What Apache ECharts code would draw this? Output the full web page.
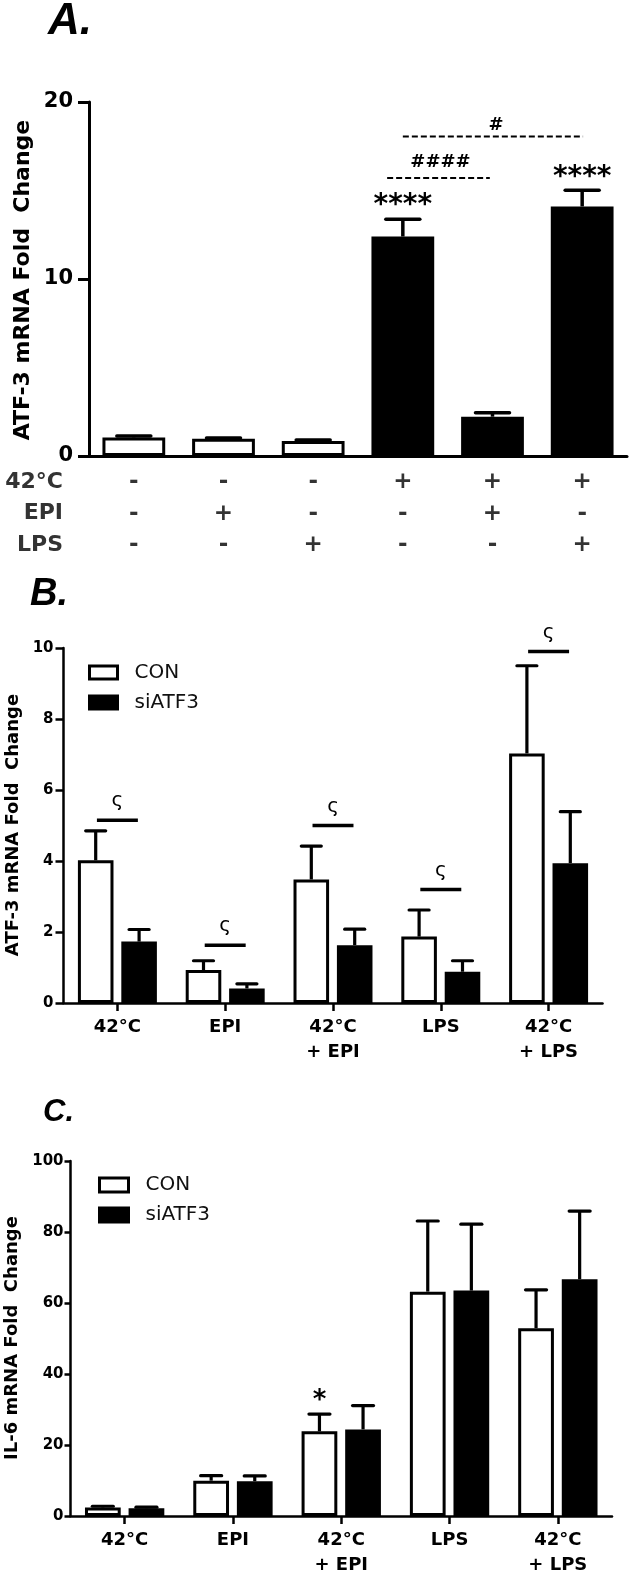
<!DOCTYPE html>
<html><head><meta charset="utf-8">
<script src="https://cdn.jsdelivr.net/npm/echarts@6/dist/echarts.min.js"></script>
<style>html,body{margin:0;padding:0;background:#fff}#c{width:629px;height:1578px}</style>
</head><body><div id="c"></div>
<script>
// ---------- Panel A data ----------
const aCategories = ['c1','c2','c3','c4','c5','c6'];
const aHeatRow = ['-','-','-','+','+','+'];
const aEpiRow  = ['-','+','-','-','+','-'];
const aLpsRow  = ['-','-','+','-','-','+'];
const aRowNames = ['42°C','EPI','LPS'];
const aMean = [1.05, 0.97, 0.85, 12.4, 2.22, 14.1];
const aSem  = [0.08, 0.05, 0.06, 0.97, 0.22, 0.92];
// annotations (x as category position, y as data value)
const aStarX = [3, 5], aStarY = [14.4, 16.0], aStarText = ['****','****'];
const aHashX = [3.42, 4.04], aHashY = [16.6, 18.7], aHashText = ['####','#'];
const aDashX1 = [2.825, 3.0], aDashX2 = [3.97, 5.01], aDashY = [15.7, 18.05];

// ---------- Panel B data ----------
const groupLabels = ['42°C','EPI','42°C\n+ EPI','LPS','42°C\n+ LPS'];
const bCon    = [4.02, 0.93, 3.48, 1.87, 7.03];
const bConErr = [0.83, 0.26, 0.94, 0.75, 2.47];
const bSi     = [1.73, 0.41, 1.63, 0.88, 3.94];
const bSiErr  = [0.34, 0.13, 0.45, 0.31, 1.45];
const bSigY   = [5.15, 1.63, 5.0, 3.2, 9.9];
const bSigText = ['ς','ς','ς','ς','ς'];

// ---------- Panel C data ----------
const cCon    = [2.4, 9.95, 23.85, 63.2, 52.9];
const cConErr = [0.35, 1.4, 4.85, 19.9, 10.8];
const cSi     = [2.2, 9.8, 24.4, 63.5, 66.7];
const cSiErr  = [0.3, 1.5, 6.7, 18.7, 19.2];
const cStarX = [2], cStarY = [33.8], cStarText = ['*'];

const FF = '"DejaVu Sans"';
const BW = 0.33, BG = 0.22;
const GAP_OFF = (BW + BW*BG)/2; // grouped bar offset (fraction of band)

function errSeries(gi, means, errs, off, capW, lw){
  return {
    type:'custom', xAxisIndex:gi, yAxisIndex:gi, z:5, silent:true,
    data: means.map((m,i)=>[i, m, m+errs[i]]),
    renderItem:(params, api)=>{
      const i = api.value(0);
      const b = api.coord([i, api.value(1)]);
      const t = api.coord([i, api.value(2)]);
      const band = api.size([1,0])[0];
      const x = b[0] + off*band;
      return {type:'group', children:[
        {type:'line', shape:{x1:x,y1:b[1],x2:x,y2:t[1]}, style:{stroke:'#000',lineWidth:lw}},
        {type:'line', shape:{x1:x-capW/2,y1:t[1],x2:x+capW/2,y2:t[1]}, style:{stroke:'#000',lineWidth:lw,lineCap:'round'}}
      ]};
    }
  };
}
function textSeries(gi, xs, ys, texts, font, dy, color){
  return {
    type:'custom', xAxisIndex:gi, yAxisIndex:gi, z:6, silent:true,
    data: xs.map((x,k)=>[Math.round(x), ys[k]]),
    renderItem:(params, api)=>{
      const k = params.dataIndex;
      const p = api.coord([api.value(0), api.value(1)]);
      const band = api.size([1,0])[0];
      const frac = xs[k] - Math.round(xs[k]);
      return {type:'text', x:p[0]+frac*band, y:p[1]+dy,
        style:{text:texts[k], font:font, fill:color||'#000', align:'center', verticalAlign:'middle', textAlign:'center', textVerticalAlign:'middle'}};
    }
  };
}
function segSeries(gi, x1s, x2s, ys, lw, dash){
  return {
    type:'custom', xAxisIndex:gi, yAxisIndex:gi, z:6, silent:true,
    data: ys.map((y,k)=>[Math.round(x1s[k]), y]),
    renderItem:(params, api)=>{
      const k = params.dataIndex;
      const band = api.size([1,0])[0];
      const r1 = Math.round(x1s[k]), r2 = Math.round(x2s[k]);
      const p1 = api.coord([r1, ys[k]]), p2 = api.coord([r2, ys[k]]);
      const xa = p1[0] + (x1s[k]-r1)*band, xb = p2[0] + (x2s[k]-r2)*band;
      return {type:'line', shape:{x1:xa,y1:p1[1],x2:xb,y2:p1[1]},
        style:{stroke:'#000', lineWidth:lw, lineDash:dash||null}};
    }
  };
}

const bSigX1 = bSigY.map((_,i)=>i-0.19), bSigX2 = bSigY.map((_,i)=>i+0.19), bSigX = bSigY.map((_,i)=>i);
const cStarXs = cStarX.map(i=>i-GAP_OFF);

function yAx(gi, max, interval, lw, tickLen, fs, margin){
  return {gridIndex:gi, type:'value', min:0, max:max, interval:interval,
    axisLine:{show:true, lineStyle:{color:'#000', width:lw}},
    axisTick:{show:true, length:tickLen, lineStyle:{color:'#000', width:lw}},
    splitLine:{show:false},
    axisLabel:{fontFamily:FF, fontWeight:'bold', fontSize:fs, color:'#000', margin:margin}};
}
function xGroupAx(gi){
  return {gridIndex:gi, type:'category', data:groupLabels,
    axisLine:{lineStyle:{color:'#000', width:2.5}},
    axisTick:{show:true, alignWithLabel:true, length:8, lineStyle:{color:'#000', width:2.5}},
    axisLabel:{interval:0, fontFamily:FF, fontWeight:'bold', fontSize:18, lineHeight:25, color:'#000', margin:12}};
}
const barStyleW = {color:'#fff', borderColor:'#000', borderWidth:3};
const barStyleB = {color:'#000', borderColor:'#000', borderWidth:3};

const option = {
  animation:false, backgroundColor:'#fff',
  grid:[
    {left:89, top:102, width:538, height:354},
    {left:63.5, top:648, width:539, height:355},
    {left:70.5, top:1161, width:541.5, height:355}
  ],
  xAxis:[
    {gridIndex:0, type:'category', data:aCategories,
      axisLine:{lineStyle:{color:'#000', width:3}}, axisTick:{show:false},
      axisLabel:{interval:0, formatter:(v,i)=>aHeatRow[i]+'\n'+aEpiRow[i]+'\n'+aLpsRow[i],
        fontFamily:FF, fontWeight:'bold', fontSize:23, lineHeight:31.5, color:'#333', margin:10.5}},
    xGroupAx(1), xGroupAx(2)
  ],
  yAxis:[
    yAx(0, 20, 10, 3, 11, 21, 16),
    yAx(1, 10, 2, 2.5, 8, 15, 10),
    yAx(2, 100, 20, 2.5, 6, 15, 7)
  ],
  legend:[
    {orient:'vertical', left:83, top:657.5, icon:'rect', itemWidth:28, itemHeight:13, itemGap:10,
      textStyle:{fontFamily:FF, fontSize:20, color:'#111', padding:[0,0,0,12]},
      data:[{name:'CON', itemStyle:barStyleW},{name:'siATF3', itemStyle:barStyleB}]},
    {orient:'vertical', left:93, top:1170, icon:'rect', itemWidth:29, itemHeight:14, itemGap:10,
      textStyle:{fontFamily:FF, fontSize:20, color:'#111', padding:[0,0,0,12]},
      data:[{name:'CON', itemStyle:barStyleW},{name:'siATF3', itemStyle:barStyleB}]}
  ],
  series:[
    {type:'bar', xAxisIndex:0, yAxisIndex:0, barWidth:'70%',
      data:aMean.map((v,i)=>({value:v, itemStyle: aHeatRow[i]==='+' ? barStyleB : barStyleW}))},
    errSeries(0, aMean, aSem, 0, 34, 3.5),
    textSeries(0, aStarX, aStarY, aStarText, 'bold 28px '+FF, 5),
    textSeries(0, aHashX, aHashY, aHashText, 'bold 18px '+FF, 0),
    segSeries(0, aDashX1, aDashX2, aDashY, 2, [6,3]),

    {type:'bar', name:'CON', xAxisIndex:1, yAxisIndex:1, barWidth:(BW*100)+'%', barGap:(BG*100)+'%', itemStyle:barStyleW, data:bCon},
    {type:'bar', name:'siATF3', xAxisIndex:1, yAxisIndex:1, barWidth:(BW*100)+'%', barGap:(BG*100)+'%', itemStyle:barStyleB, data:bSi},
    errSeries(1, bCon, bConErr, -GAP_OFF, 20, 3.2),
    errSeries(1, bSi, bSiErr, GAP_OFF, 20, 3.2),
    segSeries(1, bSigX1, bSigX2, bSigY, 3.5),
    textSeries(1, bSigX, bSigY, bSigText, '20px '+FF, -19),

    {type:'bar', name:'CON', xAxisIndex:2, yAxisIndex:2, barWidth:(BW*100)+'%', barGap:(BG*100)+'%', itemStyle:barStyleW, data:cCon},
    {type:'bar', name:'siATF3', xAxisIndex:2, yAxisIndex:2, barWidth:(BW*100)+'%', barGap:(BG*100)+'%', itemStyle:barStyleB, data:cSi},
    errSeries(2, cCon, cConErr, -GAP_OFF, 21, 3.2),
    errSeries(2, cSi, cSiErr, GAP_OFF, 21, 3.2),
    textSeries(2, cStarXs, cStarY, cStarText, 'bold 26px '+FF, 5)
  ],
  graphic:[
    {type:'text', x:48, y:22, style:{text:'A.', font:'italic bold 44px "Liberation Sans"', fill:'#000', align:'left', verticalAlign:'middle', textAlign:'left', textVerticalAlign:'middle'}},
    {type:'text', x:30, y:595, style:{text:'B.', font:'italic bold 38px "Liberation Sans"', fill:'#000', align:'left', verticalAlign:'middle', textAlign:'left', textVerticalAlign:'middle'}},
    {type:'text', x:43, y:1112, style:{text:'C.', font:'italic bold 31px "Liberation Sans"', fill:'#000', align:'left', verticalAlign:'middle', textAlign:'left', textVerticalAlign:'middle'}},
    {type:'text', x:23, y:280, rotation:Math.PI/2, style:{text:'ATF-3 mRNA Fold  Change', font:'bold 22px '+FF, fill:'#000', align:'center', verticalAlign:'middle', textAlign:'center', textVerticalAlign:'middle'}},
    {type:'text', x:13, y:825, rotation:Math.PI/2, style:{text:'ATF-3 mRNA Fold  Change', font:'bold 18px '+FF, fill:'#000', align:'center', verticalAlign:'middle', textAlign:'center', textVerticalAlign:'middle'}},
    {type:'text', x:12, y:1338, rotation:Math.PI/2, style:{text:'IL-6 mRNA Fold  Change', font:'bold 18px '+FF, fill:'#000', align:'center', verticalAlign:'middle', textAlign:'center', textVerticalAlign:'middle'}},
    {type:'text', x:63, y:482, style:{text:aRowNames[0], font:'bold 22px '+FF, fill:'#333', align:'right', verticalAlign:'middle', textAlign:'right', textVerticalAlign:'middle'}},
    {type:'text', x:63, y:513, style:{text:aRowNames[1], font:'bold 22px '+FF, fill:'#333', align:'right', verticalAlign:'middle', textAlign:'right', textVerticalAlign:'middle'}},
    {type:'text', x:63, y:545, style:{text:aRowNames[2], font:'bold 22px '+FF, fill:'#333', align:'right', verticalAlign:'middle', textAlign:'right', textVerticalAlign:'middle'}}
  ]
};
const chart = echarts.init(document.getElementById('c'), null, {renderer:'canvas'});
chart.setOption(option);
</script></body></html>
